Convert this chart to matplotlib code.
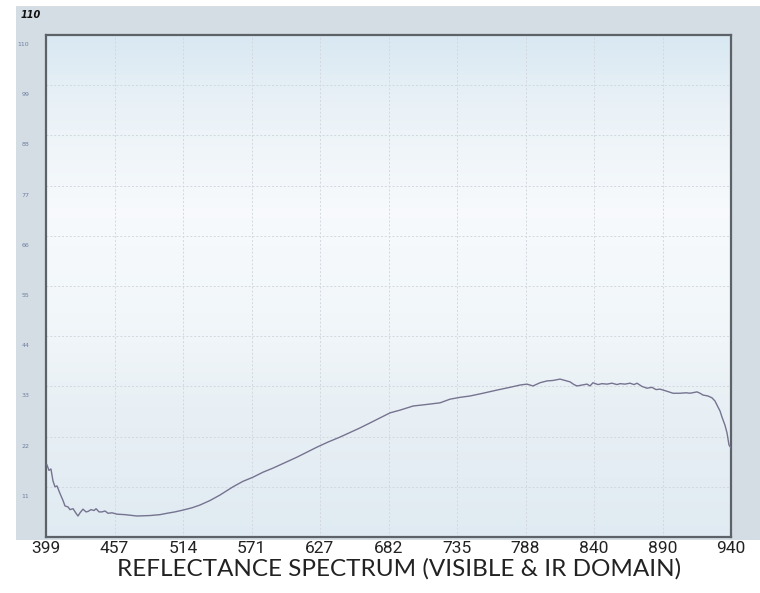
import numpy as np
import matplotlib
matplotlib.use("Agg")
import matplotlib.pyplot as plt
from matplotlib.transforms import ScaledTranslation

# tick wavelengths (spectrometer axis is not linear in nm)
tick_wl = [399, 457, 514, 571, 627, 682, 735, 788, 840, 890, 940]
ytick_vals = [11, 22, 33, 44, 55, 66, 77, 88, 99, 110]

# reflectance curve
wavelength = [399.8, 401.5, 403.2, 404.9, 406.6, 408.3, 410.9, 413.4, 415.1, 417.6,
              419.3, 421.9, 424.4, 426.1, 427.8, 430.3, 432.9, 434.6, 437.1, 439.7,
              441.4, 443.9, 446.4, 449.0, 451.5, 454.9, 459.1, 465.7, 475.7, 486.5,
              494.9, 500.7, 507.3, 514.0, 521.5, 528.1, 536.5, 544.8, 555.6, 563.9,
              572.2, 580.4, 588.6, 598.4, 608.2, 616.4, 624.6, 633.4, 643.1, 651.1,
              659.1, 667.2, 675.2, 683.2, 690.9, 701.0, 710.3, 721.9, 729.6, 737.3,
              745.1, 755.1, 766.0, 776.0, 783.8, 789.1, 793.7, 799.0, 804.3, 808.9,
              814.2, 818.0, 821.8, 824.8, 827.1, 830.9, 834.7, 837.0, 839.2, 842.9,
              845.8, 849.5, 853.1, 856.8, 859.0, 862.6, 866.3, 869.2, 871.4, 875.0,
              878.7, 882.3, 885.3, 888.2, 892.6, 897.7, 902.8, 907.2, 910.1, 915.2,
              917.4, 919.6, 923.2, 926.1, 928.3, 929.8, 932.0, 933.4, 935.6, 937.1,
              938.5, 940.0]
reflectance = [15.8, 14.6, 14.9, 12.3, 11.0, 11.2, 9.5, 8.0, 6.8, 6.6,
               6.0, 6.2, 5.2, 4.6, 5.3, 6.1, 5.5, 5.6, 6.0, 5.8,
               6.2, 5.5, 5.5, 5.7, 5.2, 5.3, 5.0, 4.9, 4.6, 4.7,
               4.9, 5.2, 5.5, 5.9, 6.4, 7.0, 8.0, 9.2, 11.0, 12.2,
               13.1, 14.2, 15.1, 16.3, 17.5, 18.6, 19.7, 20.8, 21.9, 22.9,
               23.9, 25.0, 26.1, 27.2, 27.8, 28.7, 29.0, 29.4, 30.2, 30.6,
               30.9, 31.5, 32.2, 32.8, 33.3, 33.5, 33.1, 33.8, 34.2, 34.3,
               34.6, 34.3, 34.0, 33.4, 33.1, 33.3, 33.5, 33.1, 33.8, 33.4,
               33.6, 33.5, 33.7, 33.4, 33.6, 33.5, 33.7, 33.4, 33.7, 33.0,
               32.6, 32.8, 32.3, 32.4, 32.0, 31.5, 31.5, 31.6, 31.5, 31.8,
               31.5, 31.1, 30.9, 30.5, 29.8, 28.9, 27.6, 26.3, 24.5, 22.8,
               20.2, 19.5]

idx = np.arange(len(tick_wl), dtype=float)


def fwd(w):
    return np.interp(w, tick_wl, idx)


def inv(u):
    return np.interp(u, idx, tick_wl)


W, H = 760, 593
fig = plt.figure(figsize=(W / 100, H / 100), dpi=100)
fig.patch.set_facecolor("white")

# grey panel behind the chart
bg = fig.add_axes([16 / W, 1 - 540 / H, (W - 16) / W, (540 - 6) / H], zorder=0)
bg.set_facecolor("#d4dde4")
bg.set_xticks([])
bg.set_yticks([])
for s in bg.spines.values():
    s.set_visible(False)

ax = fig.add_axes([46 / W, 1 - 537 / H, (731 - 46) / W, (537 - 35) / H], zorder=2)
ax.set_xscale("function", functions=(fwd, inv))
ax.set_xlim(399, 940)
ax.set_ylim(0, 110)

# soft blue/white background gradient
grad = np.array([0.0, 0.25, 0.45, 0.65, 0.85, 1.0])
cols = np.array([[0.88, 0.92, 0.95], [0.91, 0.94, 0.96], [0.95, 0.97, 0.98],
                 [0.97, 0.98, 0.99], [0.92, 0.95, 0.97], [0.85, 0.91, 0.95]])
t = np.linspace(0, 1, 200)
img = np.stack([np.interp(t, grad, cols[:, k]) for k in range(3)], axis=1)
ax.imshow(img[:, None, :], extent=[0, 1, 0, 1], transform=ax.transAxes,
          aspect="auto", origin="lower", zorder=0)

ax.plot(wavelength, reflectance, color="#75738f", lw=1.0, zorder=3)

ax.set_xticks(tick_wl)
ax.set_xticklabels([str(v) for v in tick_wl],
                   family=["Roboto", "DejaVu Sans"], fontsize=12.5,
                   color="#222222")
ax.set_yticks(ytick_vals)
ax.set_yticklabels([str(v) for v in ytick_vals], fontsize=4.5, color="#6f7fa0")
ax.tick_params(axis="x", length=0, pad=3)
ax.tick_params(axis="y", length=0, pad=12)
off = ScaledTranslation(0, -9 / 100, fig.dpi_scale_trans)
for lab in ax.get_yticklabels():
    lab.set_transform(lab.get_transform() + off)
ax.minorticks_off()

ax.grid(True, color="#d2d8de", lw=0.7, ls=(0, (2, 2)), zorder=1)
for s in ax.spines.values():
    s.set_color("#5c6268")
    s.set_linewidth(1.6)

fig.text(21 / W, 1 - 15 / H, "110", fontsize=7, fontweight="bold", style="italic",
         color="#111111", va="center", ha="left", zorder=5)
fig.text(399 / W, 1 - 569 / H, "REFLECTANCE SPECTRUM (VISIBLE & IR DOMAIN)",
         family=["Lato", "DejaVu Sans"], fontsize=17.5, color="#222222",
         ha="center", va="center")

fig.savefig("out.png", dpi=100)
